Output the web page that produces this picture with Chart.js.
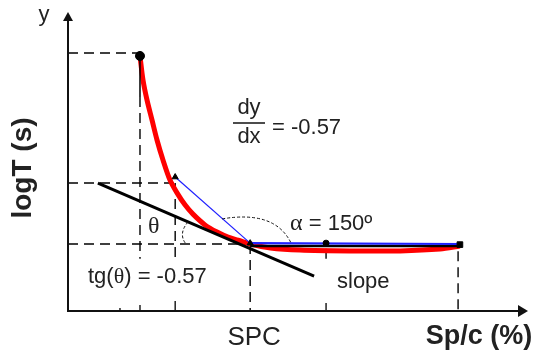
<!DOCTYPE html>
<html>
<head>
<meta charset="utf-8">
<script src="https://cdn.jsdelivr.net/npm/chart.js@4.4.1/dist/chart.umd.min.js"></script>
<style>
  body { margin: 0; background: #fff; }
  #wrap { width: 538px; height: 355px; }
</style>
</head>
<body>
<div id="wrap"><canvas id="myChart"></canvas></div>
<script>
// measured curve (arbitrary units: x = Sp/c, y = logT)
const curveX = [15.65, 16.3, 17.17, 18.26, 19.35, 20.65, 22.17, 23.7, 25.43, 27.17, 29.78, 32.4, 34.8, 37.0, 39.6, 44.0, 50.4, 61.3, 72.2, 80.9, 85.2];
const curveY = [8.53, 7.73, 7.06, 6.39, 5.72, 5.05, 4.38, 3.95, 3.55, 3.24, 2.88, 2.64, 2.47, 2.37, 2.24, 2.11, 2.04, 2.01, 2.01, 2.07, 2.17];

// chord (blue), tangent and plateau (black)
const chordX = [23.3, 39.6, 85.2];
const chordY = [4.48, 2.27, 2.24];
const tangentX = [6.5, 53.5];
const tangentY = [4.28, 1.17];
const plateauX = [39.6, 85.2];
const plateauY = [2.17, 2.17];

// marked points
const markX = [15.65, 23.3, 39.6, 56.1, 85.2];
const markY = [8.53, 4.48, 2.27, 2.27, 2.22];
const markStyle = ["circle", "triangle", "triangle", "circle", "rect"];
const markSize = [4.5, 3.5, 3.5, 3, 4];

// dashed guides
const levelY = [8.63, 4.28, 2.24];
const levelEndX = [15.65, 23.3, 39.6];
const dropX = [15.65, 23.3, 39.6, 84.8];
const dropTopY = [7.16, 4.28, 2.24, 2.0];
const dropBottomY = [1.75, 1.75, 0, 0];

// small ticks on the x axis (height in px) and the labelled one
const tickX = [11.3, 15.65, 23.3, 56.1];
const tickLen = [3, 6, 10, 8];
const spcX = 39.6;

const xy = (xs, ys) => xs.map((x, i) => ({ x: x, y: ys[i] }));

const datasets = [];

datasets.push({
  data: xy(markX, markY),
  showLine: false,
  pointStyle: markStyle,
  pointRadius: markSize,
  backgroundColor: "#000",
  borderColor: "#000",
  order: 0,
});
datasets.push({
  data: xy(chordX, chordY),
  showLine: true,
  borderColor: "#1f1fff",
  borderWidth: 2,
  segment: { borderWidth: (ctx) => (ctx.p0DataIndex === 0 ? 1.2 : 2.2) },
  pointRadius: 0,
  order: 1,
});
datasets.push({
  data: xy(plateauX, plateauY),
  showLine: true,
  borderColor: "#000",
  borderWidth: 2.5,
  pointRadius: 0,
  order: 2,
});
datasets.push({
  data: xy(tangentX, tangentY),
  showLine: true,
  borderColor: "#000",
  borderWidth: 3,
  pointRadius: 0,
  order: 3,
});
datasets.push({
  data: xy(curveX, curveY),
  showLine: true,
  borderColor: "#ff0000",
  borderWidth: 5,
  tension: 0.3,
  pointRadius: 0,
  order: 4,
});
// solid top part of the first drop line
datasets.push({
  data: [{ x: dropX[0], y: curveY[0] }, { x: dropX[0], y: dropTopY[0] }],
  showLine: true,
  borderColor: "#000",
  borderWidth: 1.5,
  pointRadius: 0,
  order: 3,
});
levelY.forEach((y, i) => {
  datasets.push({
    data: [{ x: 0, y: y }, { x: levelEndX[i], y: y }],
    showLine: true,
    borderColor: "#000",
    borderWidth: 1.4,
    borderDash: [10, 6],
    pointRadius: 0,
    order: 5,
  });
});
dropX.forEach((x, i) => {
  datasets.push({
    data: [{ x: x, y: dropTopY[i] }, { x: x, y: dropBottomY[i] }],
    showLine: true,
    borderColor: "#000",
    borderWidth: 1.4,
    borderDash: [10, 6],
    pointRadius: 0,
    order: 5,
  });
});
// short bracket stub under the plateau
datasets.push({
  data: [{ x: 56.1, y: 2.08 }, { x: 56.1, y: 1.75 }],
  showLine: true,
  borderColor: "#000",
  borderWidth: 1.4,
  pointRadius: 0,
  order: 5,
});

const SANS = "'Liberation Sans', Arial, sans-serif";
const SERIF = "'Liberation Serif', 'Times New Roman', serif";

function parts(ctx, x, y, list) {
  let cx = x;
  list.forEach(([t, f]) => {
    ctx.font = f;
    ctx.fillText(t, cx, y);
    cx += ctx.measureText(t).width;
  });
}

const sketch = {
  id: "sketch",
  afterDraw(chart) {
    const ctx = chart.ctx;
    const xs = chart.scales.x;
    const ys = chart.scales.y;
    const ox = xs.getPixelForValue(0);
    const oy = ys.getPixelForValue(0);
    const top = ys.getPixelForValue(ys.max);
    const right = xs.getPixelForValue(xs.max);
    const P = (x, y) => [xs.getPixelForValue(x), ys.getPixelForValue(y)];

    ctx.save();
    ctx.strokeStyle = "#111";
    ctx.fillStyle = "#111";
    ctx.lineWidth = 2;
    // axes
    ctx.beginPath();
    ctx.moveTo(ox, top + 8);
    ctx.lineTo(ox, oy);
    ctx.lineTo(right - 8, oy);
    ctx.stroke();
    ctx.beginPath();
    ctx.moveTo(ox, top);
    ctx.lineTo(ox - 5, top + 9);
    ctx.lineTo(ox + 5, top + 9);
    ctx.fill();
    ctx.beginPath();
    ctx.moveTo(right, oy);
    ctx.lineTo(right - 10, oy - 6);
    ctx.lineTo(right - 10, oy + 6);
    ctx.fill();

    // axis ticks
    ctx.lineWidth = 1.4;
    tickX.forEach((t, i) => {
      const px = xs.getPixelForValue(t);
      ctx.beginPath();
      ctx.moveTo(px, oy);
      ctx.lineTo(px, oy - tickLen[i]);
      ctx.stroke();
    });

    // angle arcs
    ctx.lineWidth = 1;
    ctx.setLineDash([3, 2]);
    let a = P(26.1, 2.98), c = P(23.9, 2.58), b = P(25.65, 2.24);
    ctx.beginPath();
    ctx.moveTo(a[0], a[1]);
    ctx.quadraticCurveTo(c[0], c[1], b[0], b[1]);
    ctx.stroke();
    a = P(33.5, 3.08); c = P(45, 3.38); b = P(48.5, 2.27);
    ctx.beginPath();
    ctx.moveTo(a[0], a[1]);
    ctx.quadraticCurveTo(c[0], c[1], b[0], b[1]);
    ctx.stroke();
    ctx.setLineDash([]);

    // texts
    ctx.fillStyle = "#222";
    ctx.textBaseline = "alphabetic";
    ctx.textAlign = "center";
    ctx.font = "22px " + SANS;
    ctx.fillText("y", 44, 21);
    ctx.fillText("dy", 249, 114);
    ctx.fillText("dx", 249, 143);
    ctx.font = "26px " + SANS;
    ctx.fillText("SPC", xs.getPixelForValue(spcX) + 4, 345);
    ctx.font = "bold 27px " + SANS;
    ctx.fillText("Sp/c (%)", 479, 344);

    ctx.save();
    ctx.translate(31, 168);
    ctx.rotate(-Math.PI / 2);
    ctx.font = "bold 28px " + SANS;
    ctx.fillText("logT (s)", 0, 0);
    ctx.restore();

    ctx.lineWidth = 1.5;
    ctx.beginPath();
    ctx.moveTo(233, 123);
    ctx.lineTo(265, 123);
    ctx.stroke();

    ctx.textAlign = "left";
    ctx.font = "22px " + SANS;
    ctx.fillText("= -0.57", 272, 134);
    ctx.fillText("slope", 337, 288);
    parts(ctx, 290, 230, [["\u03b1", "24px " + SERIF], [" = 150\u00ba", "22px " + SANS]]);
    parts(ctx, 148, 233, [["\u03b8", "24px " + SERIF]]);
    parts(ctx, 88, 283, [["tg(", "22px " + SANS], ["\u03b8", "22px " + SERIF], [") = -0.57", "22px " + SANS]]);
    ctx.restore();
  },
};

new Chart("myChart", {
  type: "scatter",
  data: { datasets: datasets },
  options: {
    responsive: true,
    maintainAspectRatio: false,
    animation: false,
    layout: { padding: { left: 68, right: 10, top: 12, bottom: 44 } },
    plugins: { legend: { display: false }, tooltip: { enabled: false } },
    scales: {
      x: { type: "linear", min: 0, max: 100, display: false },
      y: { type: "linear", min: 0, max: 10, display: false },
    },
  },
  plugins: [sketch],
});
</script>
</body>
</html>
